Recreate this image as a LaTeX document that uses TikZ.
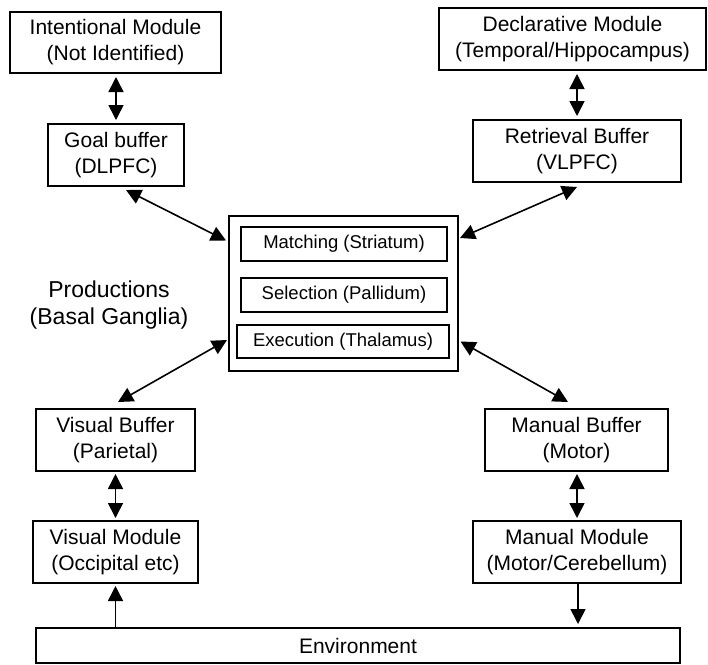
\documentclass[tikz,border=0pt]{standalone}
\usepackage{fontspec}
\setmainfont{Liberation Sans}
\usetikzlibrary{arrows.meta,calc}
\tikzset{
  box/.style={draw, line width=2pt, rectangle, inner sep=0pt, align=center,
    font={\fontsize{21}{26}\selectfont}},
  inbox/.style={draw, line width=2pt, rectangle, inner sep=0pt, align=center,
    font={\fontsize{18.5}{22}\selectfont}},
  biarrow/.style={line width=1.6pt, {Triangle[length=15pt,width=15pt]}-{Triangle[length=15pt,width=15pt]}},
  onearrow/.style={line width=1.6pt, -{Triangle[length=15pt,width=15pt]}},
}
\begin{document}
\begin{tikzpicture}[x=1pt,y=-1pt]
\useasboundingbox (0,0) rectangle (708,664);
% top left
\node[box, minimum width=211pt, minimum height=61pt] (intent) at (115.5,42.5) {Intentional Module\\(Not Identified)};
\node[box, minimum width=136pt, minimum height=62pt] (goal) at (116,155) {Goal buffer\\(DLPFC)};
% top right
\node[box, minimum width=267pt, minimum height=62pt] (decl) at (572.5,39) {Declarative Module\\(Temporal/Hippocampus)};
\node[box, minimum width=208pt, minimum height=62pt] (retr) at (577,151) {Retrieval Buffer\\(VLPFC)};
% central
\node[draw, line width=2pt, rectangle, inner sep=0pt, minimum width=229pt, minimum height=155pt] (prod) at (343.5,293.5) {};
\node[inbox, minimum width=206pt, minimum height=34pt] (match) at (344,244) {Matching (Striatum)};
\node[inbox, minimum width=206pt, minimum height=34pt] (sel) at (344,295) {Selection (Pallidum)};
\node[inbox, minimum width=212pt, minimum height=33pt] (exec) at (343,341.5) {Execution (Thalamus)};
\node[align=center, inner sep=0pt, font={\fontsize{23}{27}\selectfont}] (prodlabel) at (109,305.5) {Productions\\(Basal Ganglia)};
% bottom left
\node[box, minimum width=159pt, minimum height=62pt] (visbuf) at (115.5,440) {Visual Buffer\\(Parietal)};
\node[box, minimum width=165pt, minimum height=62pt] (vismod) at (115.5,552) {Visual Module\\(Occipital etc)};
% bottom right
\node[box, minimum width=183pt, minimum height=62pt] (manbuf) at (576.5,440) {Manual Buffer\\(Motor)};
\node[box, minimum width=208pt, minimum height=62pt] (manmod) at (577,552) {Manual Module\\(Motor/Cerebellum)};
% environment
\node[box, minimum width=644pt, minimum height=35pt] (env) at (358,645.5) {Environment};
% vertical connectors
\draw[biarrow, shorten <=3pt, shorten >=3pt] (goal.north |- intent.south) -- (goal.north);
\draw[biarrow, shorten <=3pt, shorten >=3pt] (retr.north |- decl.south) -- (retr.north);
\draw[biarrow, shorten <=2pt, shorten >=2pt] (visbuf.south) -- (visbuf.south |- vismod.north);
\draw[biarrow, shorten <=2pt, shorten >=2pt] (manmod.north |- manbuf.south) -- (manmod.north);
\draw[onearrow, shorten >=2pt] (vismod.south |- env.north) -- (vismod.south);
\draw[onearrow, shorten >=3pt] ([xshift=1pt]manmod.south) -- ([xshift=1pt]manmod.south |- env.north);
% diagonal connectors
\draw[biarrow] ([xshift=10pt,yshift=-3pt]goal.south) -- ([xshift=-2pt,yshift=53pt]prod.west);
\draw[biarrow] ([yshift=-4pt]retr.south) -- ([xshift=1pt,yshift=55.5pt]prod.east);
\draw[biarrow] ([xshift=-1pt,yshift=-46.5pt]prod.west) -- ([xshift=2.5pt,yshift=6pt]visbuf.north);
\draw[biarrow] ([xshift=1.5pt,yshift=-48pt]prod.east) -- ([xshift=-8.5pt,yshift=6pt]manbuf.north);
\end{tikzpicture}
\end{document}
